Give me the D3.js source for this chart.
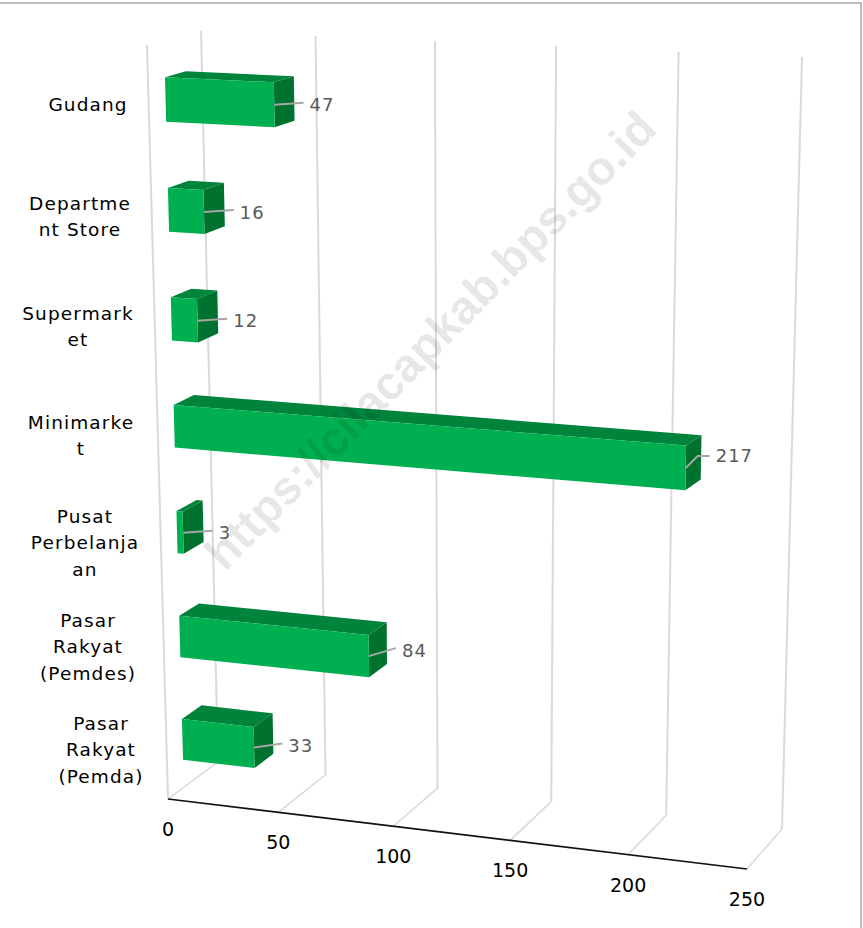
<!DOCTYPE html>
<html><head><meta charset="utf-8">
<style>html,body{margin:0;padding:0;background:#fff}svg{display:block}</style>
<script src="https://cdn.jsdelivr.net/npm/d3@7/dist/d3.min.js"></script>
</head><body><svg id="c" width="863" height="928"></svg>
<script>
const categories = ["Pasar Rakyat (Pemda)","Pasar Rakyat (Pemdes)","Pusat Perbelanjaan","Minimarket","Supermarket","Department Store","Gudang"];
const categoryLines = [["Pasar","Rakyat","(Pemda)"],["Pasar","Rakyat","(Pemdes)"],["Pusat","Perbelanja","an"],["Minimarke","t"],["Supermark","et"],["Departme","nt Store"],["Gudang"]];
const values = [33,84,3,217,12,16,47];
const ticks = [0,50,100,150,200,250];
const watermark = "https://cilacapkab.bps.go.id";

// 3-D box corners of the plot: [x,y]
const corners = {
  fb0:[168,799], fb1:[747,869], bb0:[218,762], bb1:[782,829],
  ft0:[147,45],  ft1:[762,71],  bt0:[201,31],  bt1:[802,57]
};
const u = d3.scalePow().exponent(1.03).domain([0,250]).range([0,1]);
const row = d3.scaleBand().domain(categories).range([-0.004,0.996]).paddingInner(0.6).paddingOuter(0.3);
const warpH = h => h - 0.05*h*(1-h);
const lerp = (a,b,t)=>[a[0]+(b[0]-a[0])*t, a[1]+(b[1]-a[1])*t];
function project(v,h,d){
  const t=u(v), c=corners, w=warpH(h);
  const fb=lerp(c.fb0,c.fb1,t), bb=lerp(c.bb0,c.bb1,t), ft=lerp(c.ft0,c.ft1,t), bt=lerp(c.bt0,c.bt1,t);
  return lerp(lerp(fb,ft,w),lerp(bb,bt,w),d);
}
const svg=d3.select("#c");
const line=d3.line();
const poly=p=>"M"+p.map(q=>q.join(",")).join("L")+"Z";
const GRID="#d9d9d9";

// frame
svg.append("path").attr("d","M0,3H861V928").attr("fill","none").attr("stroke","#a6a6a6").attr("stroke-width",1.5);

// grid
const g=svg.append("g").attr("fill","none").attr("stroke",GRID);
g.append("path").attr("d",line([project(0,1,0),project(0,0,0)])).attr("stroke-width",2);
g.selectAll(".v").data(ticks).join("path").attr("stroke-width",2)
  .attr("d",t=>line([project(t,1,1),project(t,0,1)]));
g.selectAll(".f").data(ticks).join("path").attr("stroke-width",1.5)
  .attr("d",t=>line([project(t,0,0),project(t,0,1)]));
// floor axis
svg.append("path").attr("d",line([project(0,0,0),project(250,0,0)])).attr("stroke","#111").attr("stroke-width",1.6).attr("fill","none");
svg.selectAll(".tick").data(ticks).join("text")
  .attr("x",t=>project(t,0,0)[0]).attr("y",t=>project(t,0,0)[1]+30)
  .attr("text-anchor","middle").attr("dominant-baseline","central")
  .attr("font-family","DejaVu Sans").attr("font-size",19).attr("fill","#000").text(t=>t);

// bars
const D1=0.315,D2=0.705;
const labelLift=[2,6,0,12,0,0,0];
const bars=svg.append("g");
categories.forEach((c,i)=>{
  const v=values[i], h0=row(c), h1=h0+row.bandwidth();
  const P=(a,h,d)=>project(a,h,d);
  const G=bars.append("g");
  G.append("path").attr("d",poly([P(v,h0,D1),P(v,h1,D1),P(v,h1,D2),P(v,h0,D2)])).attr("fill","#00722f");
  G.append("path").attr("d",poly([P(0,h1,D1),P(0,h1,D2),P(v,h1,D2),P(v,h1,D1)])).attr("fill","#00843b");
  G.append("path").attr("d",poly([P(0,h0,D1),P(0,h1,D1),P(v,h1,D1),P(v,h0,D1)])).attr("fill","#00b050");
  const mid=P(v,(h0+h1)/2,D1), back=P(v,h0,D2);
  const lx=back[0]+15, ly=mid[1]-labelLift[i];
  const pts=labelLift[i]>8?[mid,[back[0]-3,ly],[lx-6,ly]]:[mid,[lx-6,ly-2]];
  G.append("path").attr("d",line(pts)).attr("fill","none").attr("stroke","#a6a6a6").attr("stroke-width",2);
  G.append("text").attr("x",lx).attr("y",ly).attr("dominant-baseline","central")
    .attr("font-family","DejaVu Sans").attr("font-size",18).attr("letter-spacing",1).attr("fill","#595959").text(v);
});

// category labels
const labelCentreX=[101,88,85,81,78,80,88];
const labelFirstY=[723,620,516,422,313,203,104];
categoryLines.forEach((ls,i)=>{
  svg.append("text").attr("text-anchor","middle").attr("font-family","DejaVu Sans").attr("font-size",18.5).attr("letter-spacing",1.1).attr("fill","#000")
   .selectAll("tspan").data(ls).join("tspan")
   .attr("x",labelCentreX[i]).attr("y",(d,k)=>labelFirstY[i]+k*26.5).attr("dominant-baseline","central").text(d=>d);
});

// watermark
svg.append("text").attr("transform","translate(430,340) rotate(-45.5)")
  .attr("text-anchor","middle").attr("dominant-baseline","central")
  .attr("font-family","Liberation Sans").attr("font-weight","bold").attr("font-size",47)
  .attr("fill","#000").attr("fill-opacity",0.11).text(watermark);
</script></body></html>
